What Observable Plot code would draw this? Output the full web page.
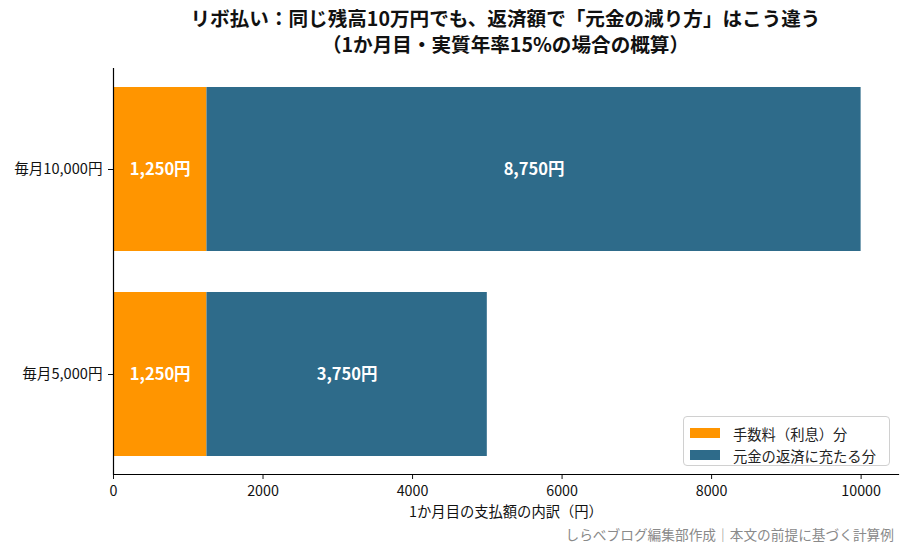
<!DOCTYPE html>
<html><head><meta charset="utf-8">
<script src="https://cdn.jsdelivr.net/npm/d3@7"></script>
<script src="https://cdn.jsdelivr.net/npm/@observablehq/plot@0.6"></script>
<style>
body{margin:0;background:#fff;font-family:"Noto Sans CJK JP",sans-serif;}
#wrap{position:relative;width:908px;height:551px;overflow:hidden;}
#title{position:absolute;left:113px;width:785px;top:5px;text-align:center;font-weight:bold;font-size:19.6px;color:#111;}
#title div{height:25.5px;line-height:25.5px;}
#chart{position:absolute;left:0;top:60px;}
#legend{position:absolute;left:683px;top:416px;width:205px;height:48px;border:1px solid #d0d0d0;border-radius:4px;background:rgba(255,255,255,0.85);font-size:14.3px;color:#222;}
.row{position:absolute;left:6px;height:20px;display:flex;align-items:center;}
.sw{width:30px;height:10px;margin-right:13px;}
#caption{position:absolute;right:14px;top:524px;font-size:13.7px;color:#8a8a8a;line-height:20px;}
</style></head>
<body><div id="wrap">
<div id="title"><div>リボ払い：同じ残高10万円でも、返済額で「元金の減り方」はこう違う</div><div>（1か月目・実質年率15%の場合の概算）</div></div>
<div id="chart"></div>
<div id="legend"></div>
<div id="caption">しらべブログ編集部作成｜本文の前提に基づく計算例</div>
</div>
<script>
const categories = ["毎月10,000円", "毎月5,000円"];
const parts = ["手数料（利息）分", "元金の返済に充たる分"];
const interest = [1250, 1250];
const principal = [8750, 3750];
const colors = ["#ff9500", "#2e6b8a"];
const xTicks = [0, 2000, 4000, 6000, 8000, 10000];

const data = [];
categories.forEach((c, i) => {
  data.push({cat: c, part: parts[0], value: interest[i]});
  data.push({cat: c, part: parts[1], value: principal[i]});
});
const fmt = d3.format(",");

const chart = Plot.plot({
  width: 908,
  height: 491,
  marginLeft: 113,
  marginRight: 10,
  marginTop: 8,
  marginBottom: 77,
  style: {fontFamily: "Noto Sans CJK JP", fontSize: "14px", color: "#111", background: "transparent"},
  x: {domain: [0, 10500]},
  y: {domain: categories, paddingInner: 0.2, paddingOuter: 0.09},
  color: {domain: parts, range: colors},
  marks: [
    Plot.barX(data, Plot.stackX({x: "value", y: "cat", fill: "part", order: parts})),
    Plot.text(data, Plot.stackX({x: "value", y: "cat", z: "part", order: parts, text: d => fmt(d.value) + "円", fill: "white", fontWeight: "bold", fontSize: 16.5})),
    Plot.axisY({tickSize: 5, tickPadding: 6, fontSize: 14.6, label: null}),
    Plot.axisX({ticks: xTicks, tickFormat: d3.format("d"), tickSize: 5, tickPadding: 6, label: "1か月目の支払額の内訳（円）", labelAnchor: "center", labelArrow: "none", labelOffset: 42, fontSize: 14.3}),
    Plot.ruleX([0], {stroke: "black", strokeWidth: 1.2}),
    Plot.frame({anchor: "bottom", stroke: "black", strokeWidth: 1.2})
  ]
});
document.getElementById("chart").appendChild(chart);

const lg = document.getElementById("legend");
parts.forEach((p, i) => {
  const r = document.createElement("div");
  r.className = "row";
  r.style.top = (6 + i * 22) + "px";
  r.innerHTML = `<div class="sw" style="background:${colors[i]}"></div><span>${p}</span>`;
  lg.appendChild(r);
});
</script>
</body></html>
